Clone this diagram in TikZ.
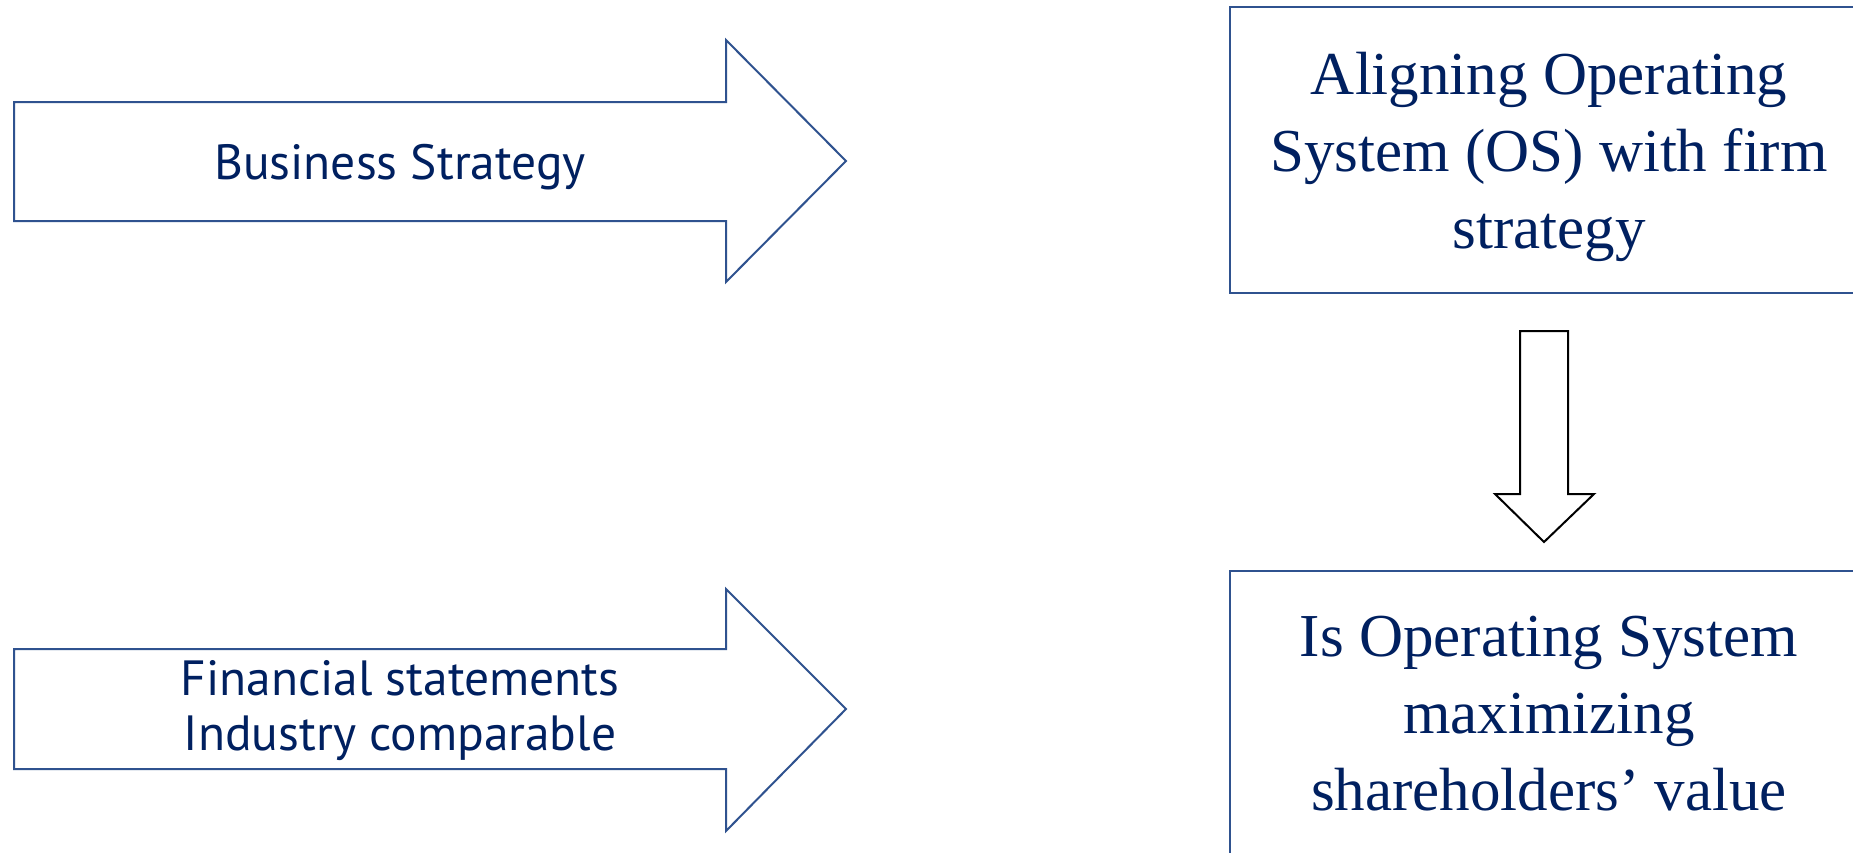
\documentclass[tikz,border=0pt]{standalone}
\usepackage{fontspec}
\setmainfont{Liberation Serif}
\newfontfamily\labelsans{PT Sans}
\definecolor{navy}{RGB}{0,32,96}
\definecolor{edgeblue}{RGB}{47,82,143}
\begin{document}
\begin{tikzpicture}[x=1pt,y=-1pt,
  bluearrow/.style={draw=edgeblue,line width=2pt,fill=white,line join=miter},
  blackarrow/.style={draw=black,line width=2pt,fill=white,line join=miter},
  boxframe/.style={draw=edgeblue,line width=2pt},
  sanslabel/.style={text=navy,font=\labelsans\fontsize{49.5}{55}\selectfont,align=center,inner sep=0pt},
  seriflabel/.style={text=navy,font=\fontsize{61}{77}\selectfont,align=center,inner sep=0pt}]
\useasboundingbox (0,0) rectangle (1853,852);
\clip (0,0) rectangle (1853,852);
\fill[white] (0,0) rectangle (1853,852);
% left arrows
\draw[bluearrow] (14,102) -- (726,102) -- (726,40) -- (846,161) -- (726,282) -- (726,221) -- (14,221) -- cycle;
\draw[bluearrow] (14,649) -- (726,649) -- (726,589) -- (846,709) -- (726,831) -- (726,769) -- (14,769) -- cycle;
% boxes
\draw[boxframe] (1230,7) rectangle (1870,293);
\draw[boxframe] (1230,571) rectangle (1870,900);
% down arrow
\draw[blackarrow] (1520,331) -- (1568,331) -- (1568,494) -- (1594,494) -- (1544,542) -- (1495,494) -- (1520,494) -- cycle;
% labels (base anchor = baseline of last line)
\node[sanslabel,anchor=base] (bs) at (400,179) {Business Strategy};
\node[sanslabel,anchor=base] (fs) at (400,750) {Financial statements\\Industry comparable};
\node[seriflabel,anchor=base] (os) at (1549,248) {Aligning Operating\\System (OS) with firm\\strategy};
\node[seriflabel,anchor=base] (sv) at (1549,810) {Is Operating System\\maximizing\\shareholders’ value};
\end{tikzpicture}
\end{document}
